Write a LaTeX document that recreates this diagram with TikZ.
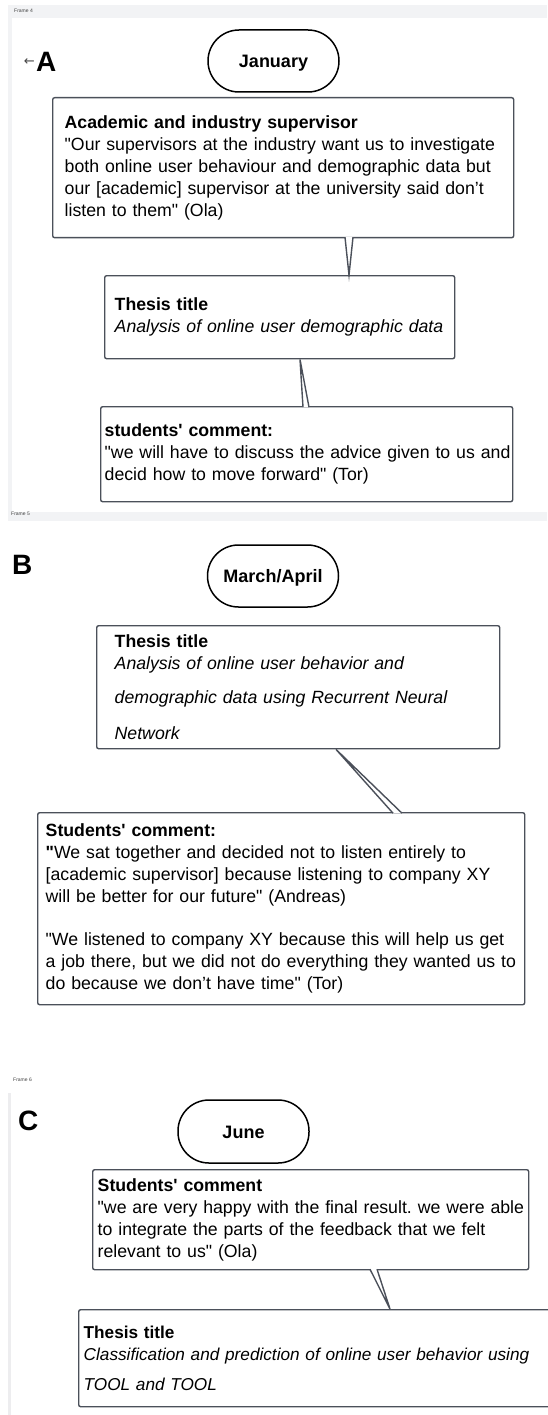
\documentclass[tikz,border=0pt]{standalone}
\usepackage{fontspec}
\newfontfamily\chartfont{Liberation Sans}
\newfontfamily\arrowfont{DejaVu Sans}
\usetikzlibrary{shapes,calc,positioning}
\definecolor{framegray}{HTML}{F2F3F5}
\definecolor{edgegray}{HTML}{EDEDEF}
\definecolor{boxline}{HTML}{4B505A}
\definecolor{labelgray}{HTML}{444444}
\newcommand{\textsize}{\chartfont\fontsize{17.7}{22}\selectfont}
\newcommand{\oneline}[1]{\mbox{#1}}
\tikzstyle{month}       = [rectangle, draw=black, line width=1.5pt, rounded corners=31pt, minimum width=131pt, minimum height=62pt, text height=13pt, text depth=0pt, font=\chartfont\fontsize{18}{22}\selectfont\bfseries]
\tikzstyle{notebox}     = [rectangle, draw=boxline, line width=1.4pt, rounded corners=2pt, align=left, anchor=north west, inner ysep=0pt, font=\textsize]
\tikzstyle{calloutline} = [draw=boxline, line width=1.4pt, fill=white]
\tikzstyle{panelletter} = [anchor=base west, inner sep=0pt, font=\chartfont\fontsize{28}{28}\selectfont\bfseries]
\tikzstyle{framelabel}  = [anchor=west, inner sep=0pt, text=labelgray, font=\chartfont\fontsize{5}{5}\selectfont]

\begin{document}
\begin{tikzpicture}[x=1pt, y=-1pt]
        \useasboundingbox (0,0) rectangle (547,1415);
        % frames
        \fill [white] (0,0) rectangle (547,1415);
        \fill [framegray] (8,5) rectangle (547,521);
        \fill [white] (12,18) rectangle (547,512);
        \fill [edgegray] (8,1093) rectangle (10.5,1415);
        \node [framelabel] (frame4) at (14,10.5) {Frame 4};
        \node [framelabel] (frame5) at (11,514) {Frame 5};
        \node [framelabel] (frame6) at (13,1080) {Frame 6};

        % A: January
        \node [panelletter] (letterA) at (36,72) {A};
        \node [inner sep=0pt, text=labelgray, font=\arrowfont\fontsize{13}{13}\selectfont, left=1pt of letterA] (arrowA) {←};
        \node [month] (january) at (273.5,61) {January};
        \node [notebox, minimum width=461pt, minimum height=140pt, text width=437pt, inner xsep=12pt] (supervisors) at (52,97)
              {\textbf{Academic and industry supervisor}\\
               \oneline{"Our supervisors at the industry want us to investigate}\\
               \oneline{both online user behaviour and demographic data but}\\
               \oneline{our [academic] supervisor at the university said don’t}\\
               \oneline{listen to them" (Ola)}};
        \node [notebox, minimum width=350pt, minimum height=83pt, text width=330pt, inner xsep=10pt] (titleA) at (104,275)
              {\textbf{Thesis title}\\
               \textit{\oneline{Analysis of online user demographic data}}};
        \node [notebox, minimum width=412pt, minimum height=95pt, text width=404pt, inner xsep=4pt] (commentA) at (100,406)
              {\textbf{students' comment:}\\
               \oneline{"we will have to discuss the advice given to us and}\\
               \oneline{decid how to move forward" (Tor)}\\[4pt]};

        \filldraw [calloutline] ($(supervisors.south west)+(293,-1.2)$) -- ($(titleA.north west)+(245,0)$) -- ($(supervisors.south west)+(301,-1.2)$);
        \filldraw [calloutline] ($(commentA.north west)+(203,1.2)$) -- ($(titleA.south west)+(196,0)$) -- ($(commentA.north west)+(209,1.2)$);

        % B: March/April
        \node [panelletter] (letterB) at (12,574) {B};
        \node [month] (marchapril) at (273,576) {March/April};
        \node [notebox, minimum width=403pt, minimum height=123pt, text width=367pt, inner xsep=18pt] (titleB) at (96,625)
              {\textbf{Thesis title}\\
               \textit{\oneline{Analysis of online user behavior and}}\\[12pt]
               \textit{\oneline{demographic data using Recurrent Neural}}\\[14pt]
               \textit{Network}};
        \node [notebox, minimum width=487pt, minimum height=192pt, text width=471pt, inner xsep=8pt] (commentB) at (37,812)
              {\textbf{Students' comment:}\\
               \oneline{\textbf{"}We sat together and decided not to listen entirely to}\\
               \oneline{[academic supervisor] because listening to company XY}\\
               \oneline{will be better for our future" (Andreas)}\\[21pt]
               \oneline{"We listened to company XY because this will help us get}\\
               \oneline{a job there, but we did not do everything they wanted us to}\\
               \oneline{do because we don’t have time" (Tor)}};

        \filldraw [calloutline] ($(commentB.north west)+(356,1.2)$) -- ($(titleB.south west)+(240,0)$) -- ($(commentB.north west)+(365,1.2)$);

        % C: June
        \node [panelletter] (letterC) at (18,1130) {C};
        \node [month, minimum height=63pt] (june) at (243.5,1131.5) {June};
        \node [notebox, minimum width=436pt, minimum height=100pt, text width=426pt, inner xsep=5pt] (commentC) at (92,1169)
              {\textbf{Students' comment}\\
               \oneline{"we are very happy with the final result.\ we were able}\\
               \oneline{to integrate the parts of the feedback that we felt}\\
               \oneline{relevant to us" (Ola)}};
        \node [notebox, minimum width=500pt, minimum height=97pt, text width=490pt, inner xsep=5pt, font=\chartfont\fontsize{17.2}{22}\selectfont] (titleC) at (78,1309)
              {\textbf{Thesis title}\\
               \textit{\oneline{Classification and prediction of online user behavior using}}\\[8pt]
               \textit{TOOL and TOOL}\\[4pt]};

        \filldraw [calloutline] ($(commentC.south west)+(278,-1.2)$) -- ($(titleC.north west)+(312,0)$) -- ($(commentC.south west)+(285,-1.2)$);
      \end{tikzpicture}
\end{document}
